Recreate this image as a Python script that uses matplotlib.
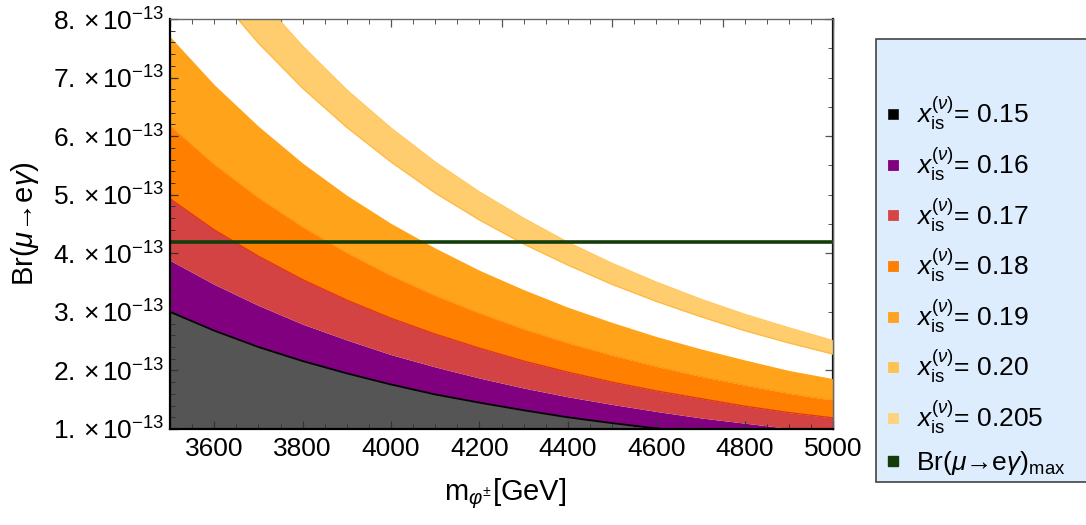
import matplotlib
matplotlib.use("Agg")
import matplotlib.pyplot as plt
from matplotlib.lines import Line2D
from matplotlib.patches import Rectangle
from matplotlib.ticker import MultipleLocator

plt.rcParams['font.family'] = ['Liberation Sans', 'DejaVu Sans']
plt.rcParams['mathtext.fontset'] = 'custom'
plt.rcParams['mathtext.rm'] = 'Liberation Sans'
plt.rcParams['mathtext.it'] = 'Liberation Sans:italic'
plt.rcParams['mathtext.bf'] = 'Liberation Sans:bold'

# -----------------------
# Datos (Br en unidades de 1e-13)
# -----------------------
m_phi = [3500, 3600, 3700, 3800, 3900, 4000, 4100, 4200,
         4300, 4400, 4500, 4600, 4700, 4800, 4900, 5000]

br_015 = [3.00, 2.68, 2.40, 2.16, 1.95, 1.76, 1.59, 1.45,
          1.32, 1.20, 1.10, 1.01, 0.92, 0.85, 0.78, 0.72]
br_016 = [3.88, 3.47, 3.11, 2.79, 2.52, 2.27, 2.06, 1.87,
          1.70, 1.55, 1.42, 1.30, 1.19, 1.10, 1.01, 0.93]
br_017 = [4.93, 4.40, 3.95, 3.55, 3.20, 2.89, 2.62, 2.38,
          2.16, 1.97, 1.80, 1.65, 1.52, 1.39, 1.28, 1.19]
br_018 = [6.18, 5.52, 4.95, 4.45, 4.01, 3.62, 3.28, 2.98,
          2.71, 2.47, 2.26, 2.07, 1.90, 1.75, 1.61, 1.49]
br_019 = [7.70, 6.88, 6.17, 5.54, 4.99, 4.51, 4.09, 3.71,
          3.38, 3.08, 2.82, 2.58, 2.37, 2.18, 2.00, 1.86]
br_020 = [9.48, 8.47, 7.59, 6.82, 6.15, 5.56, 5.03, 4.57,
          4.16, 3.80, 3.47, 3.18, 2.92, 2.68, 2.47, 2.28]
br_0205 = [10.47, 9.35, 8.38, 7.54, 6.79, 6.14, 5.56, 5.05,
           4.60, 4.19, 3.83, 3.51, 3.22, 2.96, 2.73, 2.51]

br_max = 4.2

etiquetas = ["0.15", "0.16", "0.17", "0.18", "0.19", "0.20", "0.205"]
colores_leyenda = ["#000000", "#800080", "#D44646", "#FF7F00",
                   "#FFA31F", "#FFC24F", "#FFD37C"]

# -----------------------
# Figura
# -----------------------
fig = plt.figure(figsize=(10.86, 5.25), dpi=100)
ax = fig.add_axes([170 / 1086, 1 - 429 / 525, (833 - 170) / 1086, (429 - 19) / 525])

ax.fill_between(m_phi, 0, br_015, color="#555555", lw=0)
ax.fill_between(m_phi, br_015, br_016, color="#800080", lw=0)
ax.fill_between(m_phi, br_016, br_017, color="#D34343", lw=0)
ax.fill_between(m_phi, br_017, br_018, color="#FF8000", lw=0)
ax.fill_between(m_phi, br_018, br_019, color="#FFA31A", lw=0)
ax.fill_between(m_phi, br_020, br_0205, color="#FFCD6E", lw=0)

ax.plot(m_phi, br_015, color="black", lw=1.3)
ax.plot(m_phi, br_017, color="#E2361C", lw=1.0)
ax.plot(m_phi, br_018, color="#FF9010", lw=0.6)
ax.plot(m_phi, br_020, color="#FFBA45", lw=1.0)
ax.plot(m_phi, br_0205, color="#FFC65A", lw=0.8)
ax.axhline(br_max, color="#153D0B", lw=2.6)

ax.set_xlim(3500, 5000)
ax.set_ylim(1, 8)

# ticks estilo Mathematica
ax.xaxis.set_minor_locator(MultipleLocator(50))
ax.yaxis.set_minor_locator(MultipleLocator(0.2))
ax.tick_params(which="both", direction="in", colors="#333333", labelcolor="black")
ax.tick_params(which="major", length=6, width=0.9, labelsize=19)
ax.tick_params(which="minor", length=3.5, width=0.7)
ax.tick_params(axis="x", pad=6)
ax.tick_params(axis="y", pad=4)
ax.set_xticks(range(3600, 5001, 200))
ax.set_yticks(range(1, 9))
ax.set_yticklabels([r"$%d.\,{\times}\,10^{-13}$" % v for v in range(1, 9)])

# ejes superior y derecho
top = ax.secondary_xaxis("top")
top.xaxis.set_major_locator(MultipleLocator(250))
top.xaxis.set_minor_locator(MultipleLocator(50))
top.tick_params(which="both", direction="in", labeltop=False, colors="#555555")
top.tick_params(which="major", length=6, width=0.9)
top.tick_params(which="minor", length=3.5, width=0.7)
right = ax.secondary_yaxis("right")
right.yaxis.set_major_locator(MultipleLocator(2))
right.yaxis.set_minor_locator(MultipleLocator(0.5))
right.tick_params(which="both", direction="in", labelright=False, colors="#555555")
right.tick_params(which="major", length=6, width=0.9)
right.tick_params(which="minor", length=3.5, width=0.7)

for lado in ["left", "bottom"]:
    ax.spines[lado].set_linewidth(1.6)
    ax.spines[lado].set_color("black")
for lado in ["top", "right"]:
    ax.spines[lado].set_linewidth(1.0)
    ax.spines[lado].set_color("#666666")
top.spines["top"].set_visible(False)
right.spines["right"].set_linewidth(1.6)
right.spines["right"].set_color("black")

ax.set_xlabel(r"m$_{\varphi^{\pm}}$[GeV]", fontsize=21)
ax.set_ylabel(r"Br($\mu$→e$\gamma$)", fontsize=21)
ax.xaxis.set_label_coords(0.505, -0.115)
ax.yaxis.set_label_coords(-0.195, 0.5)

# -----------------------
# Leyenda
# -----------------------
fig.patches.append(Rectangle((876 / 1086, 1 - 482 / 525), 0.2, (482 - 39) / 525,
                             transform=fig.transFigure, facecolor="#DDEDFD",
                             edgecolor="#444444", lw=1.2, zorder=0))

manejadores = []
textos = []
for et, col in zip(etiquetas, colores_leyenda):
    borde = "#222222" if col == "#000000" else col
    manejadores.append(Line2D([], [], ls="none", marker="s", markersize=7,
                              markerfacecolor=col, markeredgecolor=borde,
                              markeredgewidth=0.6))
    textos.append(r"$x_{\mathrm{is}}^{(\nu)}$= " + et)
manejadores.append(Line2D([], [], ls="none", marker="s", markersize=7,
                          markerfacecolor="#143C0A", markeredgecolor="#143C0A"))
textos.append(r"Br($\mu$→e$\gamma$)$_{\mathrm{max}}$")

fig.legend(manejadores, textos, loc="upper left",
           bbox_to_anchor=(884 / 1086, 1 - 95 / 525), frameon=False,
           fontsize=19, handlelength=0.7, handletextpad=0.5,
           labelspacing=0.5, borderpad=0, borderaxespad=0)

fig.savefig("out.png", dpi=100)
